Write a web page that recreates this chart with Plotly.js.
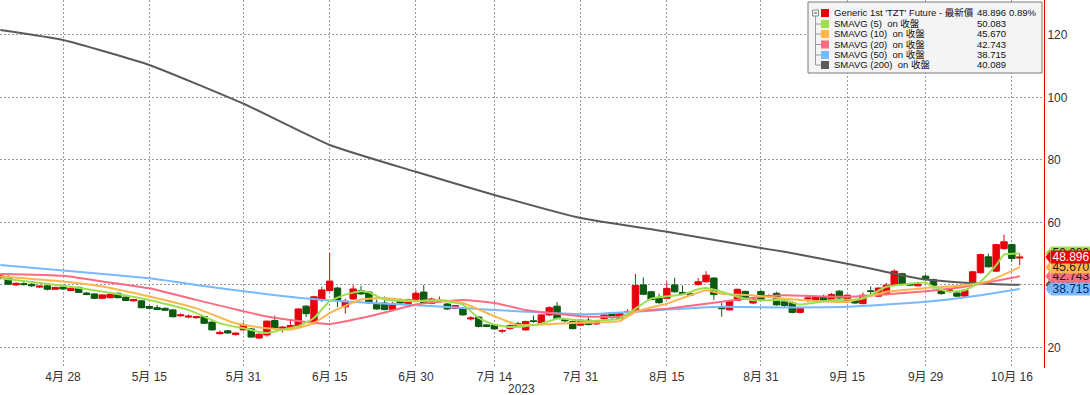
<!DOCTYPE html>
<html><head><meta charset="utf-8">
<script src="https://cdn.plot.ly/plotly-3.0.1.min.js"></script>
<style>html,body{margin:0;padding:0;background:#fff}#chart{width:1090px;height:395px}</style>
</head><body><div id="chart"></div>
<script>
// ---- trading days (2023), in order ----
const tradingDays = [
  ['04', [18,19,20,21,24,25,26,27,28]],
  ['05', [1,2,3,4,5,8,9,10,11,12,15,16,17,18,19,22,23,24,25,26,29,30,31]],
  ['06', [1,2,5,6,7,8,9,12,13,14,15,16,19,20,21,22,23,26,27,28,29,30]],
  ['07', [3,4,5,6,7,10,11,12,13,14,17,18,19,20,21,24,25,26,27,28,31]],
  ['08', [1,2,3,4,7,8,9,10,11,14,15,16,17,18,21,22,23,24,25,28,29,30,31]],
  ['09', [1,4,5,6,7,8,11,12,13,14,15,18,19,20,21,22,25,26,27,28,29]],
  ['10', [2,3,4,5,6,9,10,11,12,13,16,17]]
];
const dates = [];
tradingDays.forEach(([m, days]) => days.forEach(d => dates.push(m + '-' + String(d).padStart(2,'0'))));
const pos = d => dates.indexOf(d);   // trading-day position on the axis

// ---- OHLC ----
const open = [42.1,42.4,40.0,40.4,40.2,39.3,39.7,38.6,
 39.3,38.2,39.2,37.4,37.1,35.7,35.9,37.3,36.1,34.9,
 34.9,33.1,32.7,32.5,32.0,30.1,29.7,29.5,29.9,28.1,
 24.4,25.3,24.1,25.6,25.9,23.0,24.0,28.6,25.8,26.3,
 26.8,33.2,28.3,35.2,38.2,39.0,33.0,35.5,38.1,37.7,
 33.7,34.2,32.2,35.3,34.0,35.4,37.7,34.1,34.7,33.9,
 32.5,32.5,29.1,29.7,27.2,27.2,25.2,26.1,27.6,25.6,
 28.5,27.6,30.4,33.2,29.0,28.2,27.1,28.7,27.5,29.2,
 31.1,29.3,31.2,31.6,40.0,37.8,35.8,35.7,40.0,37.6,
 37.2,40.1,41.0,42.2,32.7,32.0,35.0,37.9,34.2,37.9,
 36.3,37.3,34.6,34.3,31.2,35.5,35.2,36.2,34.8,38.0,
 34.6,35.1,34.0,38.1,36.4,36.9,39.9,43.6,40.4,39.7,
 42.8,41.7,38.3,38.0,37.4,36.4,39.9,43.9,49.0,44.4,
 51.6,52.9,48.6];
const high = [43.4,43.1,40.8,40.9,40.5,39.8,40.0,39.4,
 39.6,39.2,39.5,37.7,37.3,37.0,37.6,37.6,36.3,35.5,
 35.1,33.4,33.6,32.8,32.2,30.9,30.5,30.1,30.1,28.3,
 25.4,25.6,24.8,28.0,26.2,24.5,28.6,30.2,26.8,29.0,
 32.6,33.5,36.5,39.4,50.2,39.4,35.6,39.9,39.7,38.0,
 35.3,36.3,34.6,35.7,35.6,38.2,40.0,35.9,36.3,34.2,
 33.6,32.8,30.0,30.0,27.5,27.5,25.8,27.4,28.2,28.5,
 30.2,30.6,33.2,34.5,29.4,28.6,28.9,29.5,28.6,30.7,
 31.4,31.0,32.2,43.5,42.4,38.1,37.2,41.0,42.3,39.8,
 37.6,42.2,44.4,42.5,34.3,34.9,38.8,38.2,35.7,38.3,
 37.0,37.8,35.2,34.8,32.8,36.8,36.4,36.9,37.4,38.3,
 36.9,35.5,37.6,39.5,39.2,40.6,45.0,43.9,40.7,41.0,
 43.3,42.0,38.6,38.8,37.8,38.6,44.5,50.0,50.0,53.1,
 56.1,53.2,50.0];
const low = [41.8,40.0,39.7,39.8,39.3,39.0,38.2,38.4,
 38.5,38.0,37.4,36.7,35.5,35.4,35.7,35.7,34.9,34.7,
 32.5,32.3,32.0,31.7,29.6,29.8,29.3,29.2,27.5,25.4,
 24.0,24.4,23.8,25.3,23.1,22.7,23.4,26.0,24.8,26.0,
 26.5,29.7,27.3,34.6,37.8,32.9,30.8,35.2,36.8,34.0,
 32.1,31.9,31.8,33.9,32.9,35.0,33.9,33.8,34.4,32.0,
 32.2,30.2,28.6,26.4,26.5,25.7,24.5,25.6,26.8,25.3,
 27.8,27.3,30.0,29.0,28.1,25.8,26.8,27.0,27.2,28.9,
 29.2,29.0,30.5,31.3,36.8,35.1,34.0,35.4,37.5,36.8,
 36.5,39.8,40.7,35.2,29.8,31.8,34.8,35.2,33.9,35.0,
 36.0,33.4,33.0,30.9,30.9,34.4,34.9,34.4,34.5,35.5,
 34.3,34.0,33.8,36.8,36.2,36.7,39.6,39.8,39.6,39.5,
 41.8,38.8,36.9,37.7,36.2,36.1,39.6,43.6,45.5,44.1,
 51.3,47.5,46.3];
const close = [42.9,40.2,40.5,40.1,39.7,39.6,38.6,39.2,
 38.7,38.9,37.6,36.9,35.7,36.8,37.0,35.9,35.0,35.3,
 32.7,32.5,32.1,31.9,29.8,30.4,30.0,29.8,27.7,25.6,
 24.8,24.6,24.6,27.2,23.3,24.2,28.4,26.2,26.5,27.0,
 32.3,30.8,36.2,38.4,41.2,35.1,34.8,38.7,37.1,34.2,
 32.3,32.1,34.0,34.2,35.3,37.3,34.1,35.5,34.9,32.3,
 33.4,30.4,29.4,26.7,26.7,25.9,25.4,27.0,27.0,28.3,
 28.3,30.4,32.7,29.2,28.5,26.0,28.7,27.3,28.4,30.4,
 29.5,30.8,31.5,39.8,37.0,35.3,34.3,38.9,37.8,37.1,
 36.8,41.0,43.1,36.9,32.4,34.7,38.6,35.5,35.5,35.3,
 36.6,33.6,33.4,31.2,32.5,35.8,36.1,34.7,36.9,35.8,
 36.7,34.2,36.7,37.9,39.0,39.9,44.4,40.1,39.9,40.3,
 42.0,39.9,37.2,38.5,36.4,38.3,44.2,49.7,45.8,52.9,
 53.8,48.46,48.896];

// ---- moving averages ----
const sma5Dates = ['04-18','04-28','05-05','05-15','05-22','05-26','05-31','06-05','06-07','06-09','06-13','06-15','06-19','06-21','06-22','06-26','06-30','07-05','07-10','07-12','07-14','07-18','07-20','07-24','07-26','08-01','08-07','08-09','08-11','08-17','08-21','08-22','08-24','08-28','08-30','09-05','09-07','09-13','09-19','09-22','09-27','09-29','10-02','10-04','10-06','10-10','10-12','10-13','10-17'];
const sma5 = [42.1,39.7,37.9,35.2,32.0,27.7,26.1,24.6,25.7,26.8,29.4,34.8,36.9,38.0,37.6,35.3,34.8,35.0,33.7,29.4,27.3,26.5,26.8,27.6,29.2,28.4,29.2,32.4,35.6,36.9,38.6,39.0,37.8,36.2,35.1,35.1,33.7,35.1,35.6,39.4,40.4,40.7,39.4,37.8,38.3,41.0,46.3,49.7,50.083];
const sma10Dates = ['04-18','04-28','05-05','05-15','05-23','05-30','06-05','06-08','06-13','06-15','06-21','06-26','06-30','07-05','07-10','07-14','07-19','07-28','08-07','08-09','08-15','08-18','08-22','08-24','08-30','09-05','09-15','09-22','09-29','10-06','10-11','10-17'];
const sma10 = [42.7,41.1,39.5,36.3,32.5,27.7,26.1,25.7,27.8,31.0,35.3,35.8,34.8,35.2,34.2,30.0,27.2,27.8,28.4,31.4,34.0,36.7,38.3,37.2,36.7,35.6,34.6,37.8,39.0,39.9,41.2,45.670];
const sma20Dates = ['04-18','04-28','05-05','05-15','05-23','06-05','06-15','06-23','06-30','07-10','07-14','07-20','07-31','08-07','08-09','08-15','08-24','08-31','09-05','09-15','09-29','10-06','10-10','10-17'];
const sma20 = [43.5,42.9,41.1,38.9,35.2,29.9,27.5,30.5,33.7,35.2,34.2,32.0,30.0,29.8,31.4,32.4,34.6,36.2,36.7,36.2,38.0,39.4,40.4,42.743];
const sma50Dates = ['04-18','04-28','05-15','05-23','06-05','06-15','06-30','07-10','07-20','07-31','08-09','08-15','08-24','09-05','09-15','09-29','10-10','10-17'];
const sma50 = [46.4,44.6,42.1,40.0,37.0,35.0,33.5,32.6,31.4,30.6,31.4,32.1,33.0,32.8,33.0,34.6,36.7,38.715];
const sma200Dates = ['04-18','04-28','05-15','05-31','06-15','06-30','07-14','07-31','08-15','08-31','09-05','09-15','09-25','09-29','10-06','10-13','10-17'];
const sma200 = [121.6,118.4,110.4,98.0,84.8,76.2,68.8,61.4,57.0,51.8,50.6,46.8,43.6,41.7,40.7,40.1,40.089];

// ---- axis ticks ----
const tickDates = ['04-28','05-15','05-31','06-15','06-30','07-14','07-31','08-15','08-31','09-15','09-29','10-16'];
const tickLabels = ['4月 28','5月 15','5月 31','6月 15','6月 30','7月 14','7月 31','8月 15','8月 31','9月 15','9月 29','10月 16'];
const yTicks = [20,40,60,80,100,120];

// ---- legend ----
const legendNames = ["Generic 1st 'TZT' Future - 最新價", 'SMAVG (5)\u00a0 on 收盤', 'SMAVG (10)\u00a0 on 收盤', 'SMAVG (20)\u00a0 on 收盤', 'SMAVG (50)\u00a0 on 收盤', 'SMAVG (200)\u00a0 on 收盤'];
const lastValues = [48.896, 50.083, 45.670, 42.743, 38.715, 40.089];
const lastChange = '0.89%';
const seriesColors = ['#e8000b', '#9ddf4f', '#ffb54d', '#ff6b80', '#78b9ff', '#5a5a5a'];
const tagTextColors = ['#ffffff', '#1a1a1a', '#1a1a1a', '#1a1a1a', '#0b2a55', '#ffffff'];

const FONT = 'Liberation Sans, Arial, Noto Sans CJK TC, sans-serif';
const W = 1090, H = 395, M = {l:0, r:46, t:0, b:27};
const PW = W - M.l - M.r, PH = H - M.t - M.b;
const Y0 = 13.4, Y1 = 131.2;
const px = x => x / PW;
const py = y => 1 - y / PH;
const vy = v => (v - Y0) / (Y1 - Y0);

const traces = [];
traces.push({
  type: 'candlestick', x: dates.map(pos), open: open, high: high, low: low, close: close,
  increasing: {line: {color: '#e8000b', width: 1}, fillcolor: '#e8000b'},
  decreasing: {line: {color: '#0b5a12', width: 1}, fillcolor: '#0b5a12'},
  whiskerwidth: 0, hoverinfo: 'skip', showlegend: false
});
const lineSets = [
  [sma200Dates, sma200, seriesColors[5]],
  [sma50Dates, sma50, seriesColors[4]],
  [sma20Dates, sma20, seriesColors[3]],
  [sma10Dates, sma10, seriesColors[2]],
  [sma5Dates, sma5, seriesColors[1]]
];
lineSets.forEach(s => traces.push({type: 'scatter', mode: 'lines', x: s[0].map(pos), y: s[1],
  line: {color: s[2], width: 2, shape: 'spline', smoothing: 0.45}, hoverinfo: 'skip', showlegend: false}));

const shapes = [], annotations = [];
// legend box
shapes.push({type: 'rect', xref: 'paper', yref: 'paper', x0: px(808), x1: px(1042), y0: py(2), y1: py(73),
  fillcolor: '#f4f4f4', line: {color: '#7a7a7a', width: 1}, layer: 'above'});
const rowY = [13, 24, 34, 44.5, 55, 65];
shapes.push({type: 'rect', xref: 'paper', yref: 'paper', x0: px(812.5), x1: px(818.5), y0: py(10), y1: py(16),
  fillcolor: '#f4f4f4', line: {color: '#8a8a8a', width: 1}, layer: 'above'});
shapes.push({type: 'line', xref: 'paper', yref: 'paper', x0: px(814), x1: px(817), y0: py(13), y1: py(13),
  line: {color: '#555', width: 1}, layer: 'above'});
shapes.push({type: 'line', xref: 'paper', yref: 'paper', x0: px(815.5), x1: px(815.5), y0: py(16), y1: py(rowY[5]),
  line: {color: '#9a9a9a', width: 1}, layer: 'above'});
legendNames.forEach((name, i) => {
  if (i > 0) shapes.push({type: 'line', xref: 'paper', yref: 'paper', x0: px(815.5), x1: px(821), y0: py(rowY[i]), y1: py(rowY[i]),
    line: {color: '#9a9a9a', width: 1}, layer: 'above'});
  shapes.push({type: 'rect', xref: 'paper', yref: 'paper', x0: px(821), x1: px(829), y0: py(rowY[i] - 4), y1: py(rowY[i] + 4),
    fillcolor: seriesColors[i], line: {width: 0}, layer: 'above'});
  annotations.push({xref: 'paper', yref: 'paper', x: px(832), y: py(rowY[i]), xanchor: 'left', yanchor: 'middle',
    text: name, showarrow: false, font: {family: FONT, size: 9.5, color: '#111'}});
  annotations.push({xref: 'paper', yref: 'paper', x: px(1008), y: py(rowY[i]), xanchor: 'right', yanchor: 'middle',
    text: lastValues[i].toFixed(3), showarrow: false, font: {family: FONT, size: 9.5, color: '#111'}});
});
annotations.push({xref: 'paper', yref: 'paper', x: px(1038), y: py(rowY[0]), xanchor: 'right', yanchor: 'middle',
  text: lastChange, showarrow: false, font: {family: FONT, size: 9.5, color: '#111'}});

// value tags on the right axis (drawn bottom to top)
const tagOrder = [5, 1, 4, 3, 2, 0];
tagOrder.forEach(i => {
  const v = lastValues[i];
  const yc = vy(v), hh = 6 / PH;
  shapes.push({type: 'path', xref: 'paper', yref: 'paper',
    path: `M ${px(1050)} ${yc + hh} L ${px(1045.5)} ${yc} L ${px(1050)} ${yc - hh} Z`,
    fillcolor: seriesColors[i], line: {width: 0}, layer: 'above'});
  annotations.push({xref: 'paper', yref: 'y', x: px(1049.5), y: v, xanchor: 'left', yanchor: 'middle',
    text: v.toFixed(3), showarrow: false, width: 40, height: 12, borderpad: 0, bgcolor: seriesColors[i],
    align: 'center', valign: 'middle', font: {family: FONT, size: 12, color: tagTextColors[i]}});
});
annotations.push({xref: 'paper', yref: 'paper', x: px(521), y: py(389), xanchor: 'center', yanchor: 'middle',
  text: '2023', showarrow: false, font: {family: FONT, size: 12, color: '#333'}});

const layout = {
  width: W, height: H, margin: {l: M.l, r: M.r, t: M.t, b: M.b, pad: 0},
  paper_bgcolor: '#ffffff', plot_bgcolor: '#ffffff', showlegend: false,
  boxgap: 0.18, boxgroupgap: 0,
  xaxis: {type: 'linear', range: [-0.04, 133.1], rangeslider: {visible: false},
    tickmode: 'array', tickvals: tickDates.map(pos), ticktext: tickLabels,
    showgrid: true, gridcolor: '#9a9a9a', griddash: '2px,2px', gridwidth: 1,
    ticks: '', showline: false, zeroline: false,
    tickfont: {family: FONT, size: 12, color: '#333'}},
  yaxis: {side: 'right', range: [Y0, Y1], tickmode: 'array', tickvals: yTicks,
    showgrid: true, gridcolor: '#9a9a9a', griddash: '2px,2px', gridwidth: 1,
    showline: true, linecolor: '#e8000b', linewidth: 1, ticks: '', zeroline: false,
    tickfont: {family: FONT, size: 12, color: '#333'}},
  shapes: shapes, annotations: annotations
};
Plotly.newPlot('chart', traces, layout, {staticPlot: true, displayModeBar: false});
</script></body></html>
